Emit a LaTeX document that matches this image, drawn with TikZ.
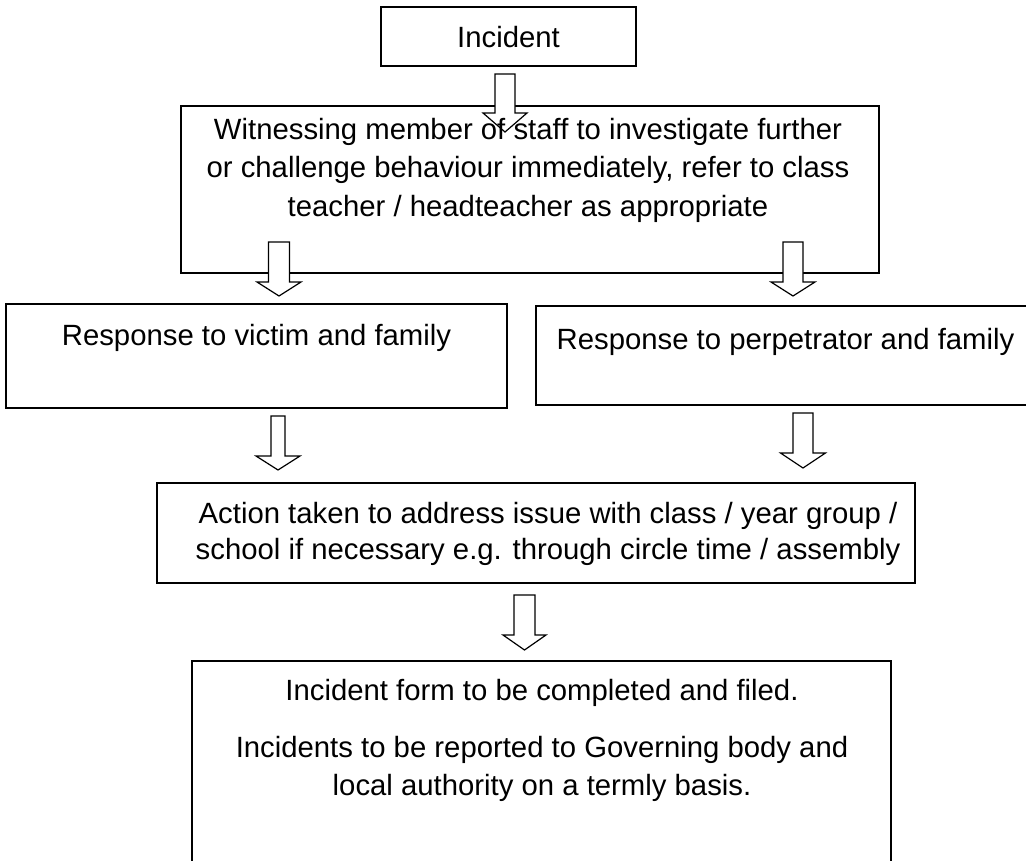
\documentclass[tikz,border=0pt]{standalone}
\usepackage{fontspec}
\setmainfont{Liberation Sans}
\usetikzlibrary{calc}
\tikzset{
  box/.style={draw, line width=1.8pt, inner sep=0pt, outer sep=0pt},
  lbl/.style={anchor=base, inner sep=0pt, outer sep=0pt, font=\fontsize{29.3}{38.5}\selectfont},
  barrowline/.style={draw, fill=white, line width=1.2pt, line join=miter},
}
\newcommand{\blockarrow}[5]{% tail, tip, shaft half width, head half width, head length
  \draw[barrowline] ($(#1)+(-#3,0)$) -- ($(#1)+(#3,0)$) -- ($(#2)+(#3,-#5)$) -- ($(#2)+(#4,-#5)$) -- (#2) -- ($(#2)+(-#4,-#5)$) -- ($(#2)+(-#3,-#5)$) -- cycle;}
\begin{document}
\begin{tikzpicture}[x=1pt, y=-1pt]
\clip (0,0) rectangle (1026,860);
\fill[white] (0,0) rectangle (1026,860);
% boxes
\node[box, minimum width=255, minimum height=59] (inc) at (508.5,36.5) {};
\node[box, minimum width=698, minimum height=167] (wit) at (530,189.5) {};
\node[box, minimum width=501, minimum height=104] (vic) at (256.5,356) {};
\node[box, minimum width=510, minimum height=99] (per) at (791,355.5) {};
\node[box, minimum width=758, minimum height=100] (act) at (536,533) {};
\node[box, minimum width=699, minimum height=239] (fin) at (541.5,780.5) {};
% arrow end points
\coordinate (a1s) at (505,74);   \coordinate (a1e) at (505,132);
\coordinate (a2s) at (279,242);  \coordinate (a2e) at (279,296);
\coordinate (a3s) at (793,242);  \coordinate (a3e) at (793,296);
\coordinate (a4s) at (278,416);  \coordinate (a4e) at (278,470);
\coordinate (a5s) at (803,413);  \coordinate (a5e) at (803,468);
\coordinate (a6s) at (524.5,595);\coordinate (a6e) at (524.5,650);
\blockarrow{a1s}{a1e}{10}{22}{19}
\blockarrow{a2s}{a2e}{10.5}{22}{14}
\blockarrow{a3s}{a3e}{10}{22}{14}
\blockarrow{a4s}{a4e}{7}{22}{14}
\blockarrow{a5s}{a5e}{10}{22.5}{15}
\blockarrow{a6s}{a6e}{10.5}{21.5}{15}
% texts
\node[lbl] (tinc) at (508.5,47) {Incident};
\node[lbl] (twit) at (528,139) {\begin{tabular}[t]{@{}c@{}}Witnessing member of staff to investigate further\\ or challenge behaviour immediately, refer to class\\ teacher / headteacher as appropriate\end{tabular}};
\node[lbl] (tvic) at (256.5,345) {Response to victim and family};
\node[lbl] (tper) at (785.5,349) {Response to perpetrator and family};
\node[lbl, font=\fontsize{29.3}{36.5}\selectfont] (tact) at (548,523) {\begin{tabular}[t]{@{}c@{}}Action taken to address issue with class / year group /\\ school if necessary e.g. through circle time / assembly\end{tabular}};
\node[lbl, font=\fontsize{29.3}{38}\selectfont] (tfin) at (542,700) {\begin{tabular}[t]{@{}c@{}}Incident form to be completed and filed.\\[19pt] Incidents to be reported to Governing body and\\ local authority on a termly basis.\end{tabular}};
\end{tikzpicture}
\end{document}
